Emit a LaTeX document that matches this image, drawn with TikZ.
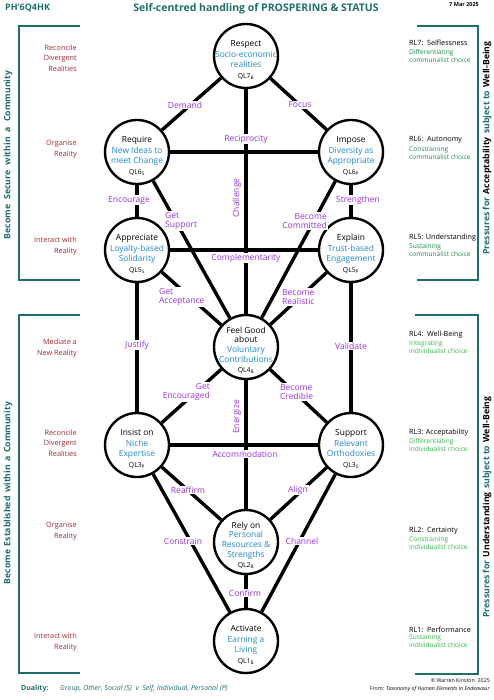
\documentclass[tikz,border=0pt]{standalone}
\usepackage{fontspec}
\setmainfont{Open Sans}
\usetikzlibrary{backgrounds}
\definecolor{tealc}{HTML}{1F6E6E}
\definecolor{blu}{HTML}{1E8AD2}
\definecolor{purp}{HTML}{9933E6}
\definecolor{dred}{HTML}{A32830}
\definecolor{dgreen}{HTML}{1E8A4A}
\definecolor{bgreen}{HTML}{33B84A}
\begin{document}
\begin{tikzpicture}[x=1pt,y=-1pt,
  qc/.style={circle,draw=black,line width=2.4pt,fill=white,minimum size=64pt,inner sep=0pt},
  qt/.style={align=center,font=\fontsize{8.4}{10.5}\selectfont,inner sep=0pt},
  edge/.style={line width=3.4pt,black},
  lbl/.style={fill=white,text=purp,font=\fontsize{8.5}{9.5}\selectfont,inner sep=1pt,align=center},
  rlbl/.style={text=purp,font=\fontsize{8.5}{9.5}\selectfont,inner sep=0pt,rotate=90},
  lvl/.style={text=dred,font=\fontsize{7.3}{10.5}\selectfont,inner sep=0pt,align=right,anchor=east},
  rlhead/.style={text=black,font=\fontsize{7.2}{8}\selectfont,inner sep=0pt,anchor=west},
  rlsub/.style={font=\fontsize{6.6}{8}\selectfont,inner sep=0pt,anchor=north west,align=left},
  brk/.style={draw=tealc,line width=2.2pt},
  side/.style={font=\bfseries\fontsize{8.7}{10}\selectfont,inner sep=0pt,rotate=90}]
\useasboundingbox (0,0) rectangle (494,700);
\newcommand{\ql}[2]{{\fontsize{6.8}{8}\selectfont QL#1\textsubscript{#2}}}
% header
\node[anchor=west,text=tealc,font=\bfseries\fontsize{9}{10}\selectfont,inner sep=0pt] (code) at (5,8) {PH’6Q4HK};
\node[text=tealc,font=\bfseries\fontsize{10.5}{12}\selectfont,inner sep=0pt] (title) at (256,9) {Self-centred handling of PROSPERING \& STATUS};
\node[anchor=east,font=\bfseries\fontsize{5.5}{6}\selectfont,inner sep=0pt] (date) at (479,5) {7 Mar 2025};
% brackets
\draw[brk] (80,26) -- (19,26) -- (19,280) -- (80,280);
\draw[brk] (80,315) -- (19,315) -- (19,673) -- (80,673);
\draw[brk] (417,26) -- (478,26) -- (478,280) -- (417,280);
\draw[brk] (415,315) -- (478,315) -- (478,674) -- (415,674);
\node[side,text=tealc] (ls1) at (8,155) {Become\hspace{0.6em}Secure\hspace{0.6em}within\hspace{0.6em}a\hspace{0.6em}Community};
\node[side,text=tealc] (ls2) at (8,493) {Become\hspace{0.4em}Established\hspace{0.4em}within\hspace{0.4em}a\hspace{0.4em}Community};
\node[side,text=tealc] (rs1) at (487,148) {Pressures for\hspace{0.4em}\textcolor{black}{Acceptability}\hspace{0.4em}subject to\hspace{0.4em}\textcolor{black}{Well-Being}};
\node[side,text=tealc] (rs2) at (487,507) {Pressures for\hspace{0.4em}\textcolor{black}{Understanding}\hspace{0.4em}subject to\hspace{0.4em}\textcolor{black}{Well-Being}};
% left level labels
\node[lvl] (la1) at (77,58) {Reconcile\\Divergent\\Realities};
\node[lvl] (la2) at (77,149) {Organise\\Reality};
\node[lvl] (la3) at (77,246) {Interact with\\Reality};
\node[lvl] (lb1) at (77,348) {Mediate a\\New Reality};
\node[lvl] (lb2) at (77,443) {Reconcile\\Divergent\\Realities};
\node[lvl] (lb3) at (77,531) {Organise\\Reality};
\node[lvl] (lb4) at (77,642) {Interact with\\Reality};
% right level labels
\node[rlhead] (r7) at (409,43) {RL7:\ \ Selflessness};
\node[rlsub,text=dgreen] (r7s) at (409,49) {Differentiating\\communalist choice};
\node[rlhead] (r6) at (409,140) {RL6:\ \ Autonomy};
\node[rlsub,text=dgreen] (r6s) at (409,146) {Constraining\\communalist choice};
\node[rlhead] (r5) at (409,238) {RL5: Understanding};
\node[rlsub,text=dgreen] (r5s) at (409,243) {Sustaining\\communalist choice};
\node[rlhead] (r4) at (409,335) {RL4:\ \ Well-Being};
\node[rlsub,text=bgreen] (r4s) at (409,340) {Integrating\\individualist choice};
\node[rlhead] (r3) at (409,433) {RL3: Acceptability};
\node[rlsub,text=bgreen] (r3s) at (409,438) {Differentiating\\individualist choice};
\node[rlhead] (r2) at (409,531) {RL2:\ \ Certainty};
\node[rlsub,text=bgreen] (r2s) at (409,536) {Constraining\\individualist choice};
\node[rlhead] (r1) at (409,630) {RL1:\ \ Performance};
\node[rlsub,text=bgreen] (r1s) at (409,634) {Sustaining\\individualist choice};
% circles
\node[qc] (q7) at (246,56) {};
\node[qc] (q6l) at (137,152) {};
\node[qc] (q6r) at (351,152) {};
\node[qc] (q5l) at (137,250) {};
\node[qc] (q5r) at (351,250) {};
\node[qc] (q4) at (246,347) {};
\node[qc] (q3l) at (137,445) {};
\node[qc] (q3r) at (351,445) {};
\node[qc] (q2) at (246,542) {};
\node[qc] (q1) at (246,641) {};
% edges
\begin{pgfonlayer}{background}
\draw[edge] (q7) -- (q6l);
\draw[edge] (q7) -- (q6r);
\draw[edge] (q7) -- (q4);
\draw[edge] (q6l) -- (q6r);
\draw[edge] (q6l) -- (q5l);
\draw[edge] (q6l) -- (q4);
\draw[edge] (q6r) -- (q5r);
\draw[edge] (q6r) -- (q4);
\draw[edge] (q5l) -- (q5r);
\draw[edge] (q5l) -- (q4);
\draw[edge] (q5r) -- (q4);
\draw[edge] (q5l) -- (q3l);
\draw[edge] (q5r) -- (q3r);
\draw[edge] (q4) -- (q3l);
\draw[edge] (q4) -- (q3r);
\draw[edge] (q4) -- (q2);
\draw[edge] (q3l) -- (q3r);
\draw[edge] (q3l) -- (q2);
\draw[edge] (q3r) -- (q2);
\draw[edge] (q3l) -- (q1);
\draw[edge] (q3r) -- (q1);
\draw[edge] (q2) -- (q1);
\end{pgfonlayer}
% circle texts
\node[qt] (t7) at ([yshift=-4pt]q7.center) {Respect\\\textcolor{blu}{Socio-economic}\\\textcolor{blu}{realities}\\\ql{7}{B}};
\node[qt] (t6l) at ([yshift=-4pt]q6l.center) {Require\\\textcolor{blu}{New Ideas to}\\\textcolor{blu}{meet Change}\\\ql{6}{S}};
\node[qt] (t6r) at ([yshift=-4pt]q6r.center) {Impose\\\textcolor{blu}{Diversity as}\\\textcolor{blu}{Appropriate}\\\ql{6}{P}};
\node[qt] (t5l) at ([yshift=-4pt]q5l.center) {Appreciate\\\textcolor{blu}{Loyalty-based}\\\textcolor{blu}{Solidarity}\\\ql{5}{S}};
\node[qt] (t5r) at ([yshift=-4pt]q5r.center) {Explain\\\textcolor{blu}{Trust-based}\\\textcolor{blu}{Engagement}\\\ql{5}{P}};
\node[qt,font=\fontsize{8.4}{9.8}\selectfont] (t4) at ([yshift=-3pt]q4.center) {Feel Good\\about\\\textcolor{blu}{Voluntary}\\\textcolor{blu}{Contributions}\\\ql{4}{B}};
\node[qt] (t3l) at ([yshift=-4pt]q3l.center) {Insist on\\\textcolor{blu}{Niche}\\\textcolor{blu}{Expertise}\\\ql{3}{P}};
\node[qt] (t3r) at ([yshift=-4pt]q3r.center) {Support\\\textcolor{blu}{Relevant}\\\textcolor{blu}{Orthodoxies}\\\ql{3}{S}};
\node[qt,font=\fontsize{8.4}{9.8}\selectfont] (t2) at ([yshift=-3pt]q2.center) {Rely on\\\textcolor{blu}{Personal}\\\textcolor{blu}{Resources \&}\\\textcolor{blu}{Strengths}\\\ql{2}{B}};
\node[qt] (t1) at ([yshift=-4pt]q1.center) {Activate\\\textcolor{blu}{Earning a}\\\textcolor{blu}{Living}\\\ql{1}{B}};
% edge labels
\node[lbl] (e1) at (185,105) {Demand};
\node[lbl] (e2) at (300,105) {Focus};
\node[lbl] (e3) at (246,139) {Reciprocity};
\node[rlbl] (e4) at (237,198) {Challenge};
\node[lbl] (e5) at (129,200) {Encourage};
\node[lbl] (e6) at (358,200) {Strengthen};
\node[lbl,anchor=west,align=left] (e7) at (164,221) {Get\\Support};
\node[lbl,anchor=east,align=right] (e8) at (328,221) {Become\\Committed};
\node[lbl] (e9) at (246,258) {Complementarity};
\node[lbl,anchor=west,align=left] (e10) at (158,297) {Get\\Acceptance};
\node[lbl,anchor=west,align=left] (e11) at (281,297) {Become\\Realistic};
\node[lbl] (e12) at (137,345) {Justify};
\node[lbl] (e13) at (351,346) {Validate};
\node[lbl,anchor=east,align=right] (e14) at (211,392) {Get\\Encouraged};
\node[lbl,anchor=west,align=left] (e15) at (279,392) {Become\\Credible};
\node[rlbl] (e16) at (237,417) {Energize};
\node[lbl] (e17) at (245,454) {Accommodation};
\node[lbl] (e18) at (188,490) {Reaffirm};
\node[lbl] (e19) at (298,490) {Align};
\node[lbl] (e20) at (183,541) {Constrain};
\node[lbl] (e21) at (302,541) {Channel};
\node[lbl] (e22) at (245,593) {Confirm};
% footer
\node[anchor=west,text=tealc,font=\bfseries\fontsize{7}{8}\selectfont,inner sep=0pt] (dl) at (21,689) {Duality:};
\node[anchor=west,text=tealc,font=\itshape\fontsize{7}{8}\selectfont,inner sep=0pt] (dt) at (60,689) {Group, Other, Social (S)\ \ v\ \ Self, Individual, Personal (P)};
\node[anchor=east,font=\fontsize{5.3}{6}\selectfont,inner sep=0pt] (cp) at (490,681) {© Warren Kinston\ \ 2025};
\node[anchor=east,font=\fontsize{5.3}{6}\selectfont,inner sep=0pt] (fr) at (490,689) {From: \textit{Taxonomy of Human Elements in Endeavour}};
\end{tikzpicture}
\end{document}
